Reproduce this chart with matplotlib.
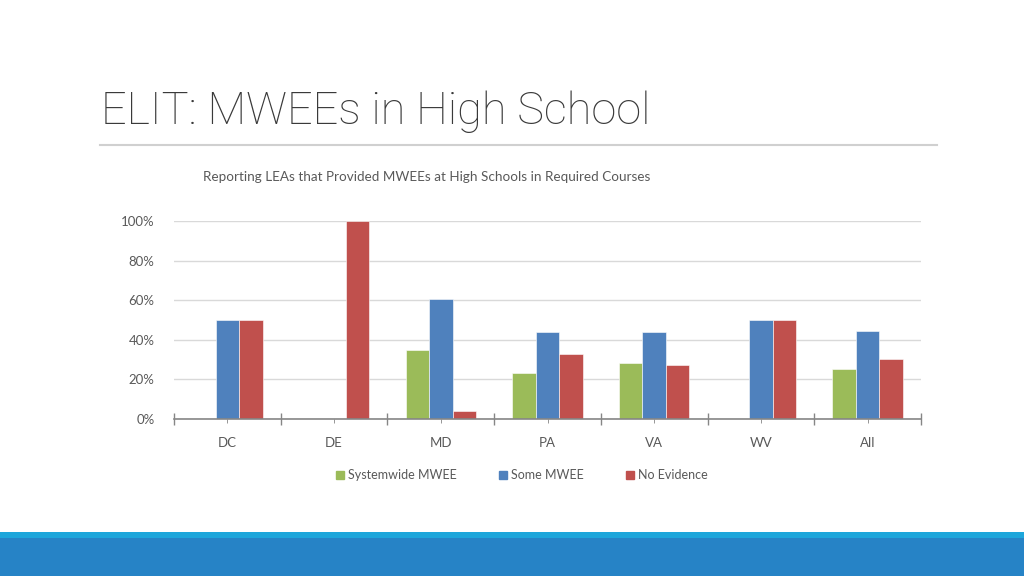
import numpy as np
import matplotlib.pyplot as plt
import matplotlib.patches as patches

# chart data
states = ['DC', 'DE', 'MD', 'PA', 'VA', 'WV', 'All']
systemwide = [0, 0, 34.7, 23.0, 28.4, 0, 25.2]
some_mwee = [50, 0, 60.7, 43.8, 44.0, 50, 44.3]
no_evidence = [50, 100, 4.0, 32.8, 27.4, 50, 30.1]
series_names = ['Systemwide MWEE', 'Some MWEE', 'No Evidence']
y_ticks = [0, 20, 40, 60, 80, 100]

GREEN = '#9BBB59'
BLUE = '#4F81BD'
RED = '#C0504D'
TEXT_GREY = '#595959'

plt.rcParams['font.family'] = ['Lato', 'DejaVu Sans']

W, H = 1024, 576
fig = plt.figure(figsize=(W / 100, H / 100), dpi=100)
fig.patch.set_facecolor('white')

# slide title and rule under it
fig.text(101 / W, 1 - 112 / H, 'ELIT: MWEEs in High School', fontsize=32.5,
         color='#3A3A3A', fontweight='light', family=['Roboto', 'DejaVu Sans'],
         va='center', ha='left')
fig.add_artist(plt.Line2D([100 / W, 937 / W], [1 - 145 / H, 1 - 145 / H],
                          color='#D0D0D0', linewidth=1.5))

# bottom band
fig.add_artist(patches.Rectangle((0, 0), 1, 38 / H, transform=fig.transFigure,
                                 facecolor='#2683C6', edgecolor='none'))
fig.add_artist(patches.Rectangle((0, 38 / H), 1, 6 / H, transform=fig.transFigure,
                                 facecolor='#1DA6DB', edgecolor='none'))

# chart title
fig.text(427 / W, 1 - 177 / H,
         'Reporting LEAs that Provided MWEEs at High Schools in Required Courses',
         fontsize=9.7, color=TEXT_GREY, ha='center', va='center')

x0, x1 = 174, 921
y_top, y_bot = 221.3, 418.7
ax = fig.add_axes([x0 / W, 1 - y_bot / H, (x1 - x0) / W, (y_bot - y_top) / H])

x = np.arange(len(states)) + 0.5
bw = 0.22
for vals, off, col in [(systemwide, -bw, GREEN), (some_mwee, 0, BLUE), (no_evidence, bw, RED)]:
    ax.bar(x + off, vals, width=bw, color=col, edgecolor='white', linewidth=0.4, zorder=3)

ax.set_xlim(0, len(states))
ax.set_ylim(0, 100)
ax.set_yticks(y_ticks)
ax.set_yticklabels([f'{t}%' for t in y_ticks])
ax.yaxis.grid(True, color='#D9D9D9', linewidth=1, zorder=0)
ax.tick_params(axis='y', length=0, labelsize=9.5, labelcolor=TEXT_GREY, pad=14)

ax.set_xticks(np.arange(len(states) + 1))
ax.set_xticklabels([])
ax.set_xticks(x, minor=True)
ax.set_xticklabels(states, minor=True)
ax.tick_params(axis='x', which='major', direction='inout', length=9, color='#868686', width=1)
ax.tick_params(axis='x', which='minor', direction='out', length=3, color='#868686',
               labelsize=9.5, labelcolor=TEXT_GREY, pad=10)

for side in ['top', 'right', 'left']:
    ax.spines[side].set_visible(False)
ax.spines['bottom'].set_color('#868686')
ax.spines['bottom'].set_linewidth(1.2)
ax.spines['bottom'].set_zorder(4)

handles = [patches.Patch(color=c) for c in [GREEN, BLUE, RED]]
fig.legend(handles, series_names, loc='center', bbox_to_anchor=(522 / W, 1 - 475 / H),
           ncol=3, frameon=False, fontsize=9, handlelength=0.6, handleheight=0.6,
           handletextpad=0.35, columnspacing=3.4, labelcolor=TEXT_GREY)

fig.savefig('out.png', dpi=100, facecolor='white')
